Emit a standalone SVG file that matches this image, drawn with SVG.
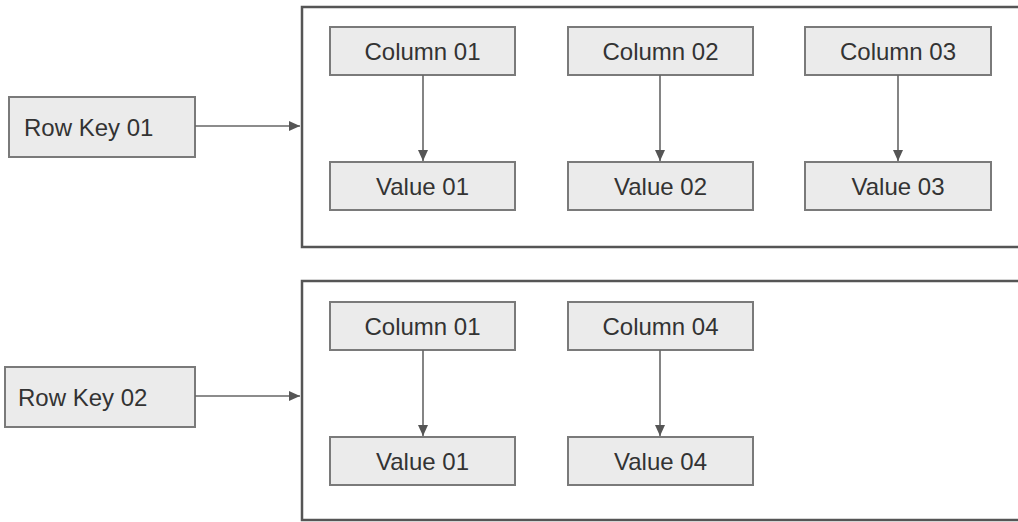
<svg xmlns="http://www.w3.org/2000/svg" width="1018" height="522" viewBox="0 0 1018 522">
<style>
.box{fill:#ebebeb;stroke:#7a7a7a;stroke-width:2}
.cont{fill:#ffffff;stroke:#555555;stroke-width:2.5}
.t{font-family:"Liberation Sans",Arial,sans-serif;font-size:24px;fill:#333333}
.c{text-anchor:middle}
.edge{stroke:#666666;stroke-width:1.6;fill:none;marker-end:url(#ah)}
</style>
<defs>
<marker id="ah" markerWidth="12" markerHeight="10" refX="11" refY="5" orient="auto" markerUnits="userSpaceOnUse">
<path d="M0,0 L11,5 L0,10 Z" fill="#555555"/>
</marker>
</defs>
<rect width="1018" height="522" fill="#ffffff"/>
<g id="family1"><rect class="cont" x="302" y="7" width="730" height="240"/></g>
<g id="family2"><rect class="cont" x="302" y="281" width="730" height="239"/></g>
<g id="rowkey01"><rect class="box" x="9" y="97" width="186" height="60"/><text class="t" x="24" y="135.5">Row Key 01</text></g>
<g id="rowkey02"><rect class="box" x="5" y="367" width="190" height="60"/><text class="t" x="18" y="405.5">Row Key 02</text></g>
<g id="r1col01"><rect class="box" x="330" y="27" width="185" height="48"/><text class="t c" x="422.5" y="59.5">Column 01</text></g>
<g id="r1val01"><rect class="box" x="330" y="162" width="185" height="48"/><text class="t c" x="422.5" y="194.5">Value 01</text></g>
<g id="r1col02"><rect class="box" x="568" y="27" width="185" height="48"/><text class="t c" x="660.5" y="59.5">Column 02</text></g>
<g id="r1val02"><rect class="box" x="568" y="162" width="185" height="48"/><text class="t c" x="660.5" y="194.5">Value 02</text></g>
<g id="r1col03"><rect class="box" x="805" y="27" width="186" height="48"/><text class="t c" x="898" y="59.5">Column 03</text></g>
<g id="r1val03"><rect class="box" x="805" y="162" width="186" height="48"/><text class="t c" x="898" y="194.5">Value 03</text></g>
<g id="r2col01"><rect class="box" x="330" y="302" width="185" height="48"/><text class="t c" x="422.5" y="334.5">Column 01</text></g>
<g id="r2val01"><rect class="box" x="330" y="437" width="185" height="48"/><text class="t c" x="422.5" y="469.5">Value 01</text></g>
<g id="r2col04"><rect class="box" x="568" y="302" width="185" height="48"/><text class="t c" x="660.5" y="334.5">Column 04</text></g>
<g id="r2val04"><rect class="box" x="568" y="437" width="185" height="48"/><text class="t c" x="660.5" y="469.5">Value 04</text></g>
<g id="connectors">
<line class="edge" x1="195" y1="126" x2="300" y2="126"/>
<line class="edge" x1="195" y1="396" x2="300" y2="396"/>
<line class="edge" x1="423" y1="75" x2="423" y2="161"/>
<line class="edge" x1="660" y1="75" x2="660" y2="161"/>
<line class="edge" x1="898" y1="75" x2="898" y2="161"/>
<line class="edge" x1="423" y1="350" x2="423" y2="436"/>
<line class="edge" x1="660" y1="350" x2="660" y2="436"/>
</g>
</svg>
